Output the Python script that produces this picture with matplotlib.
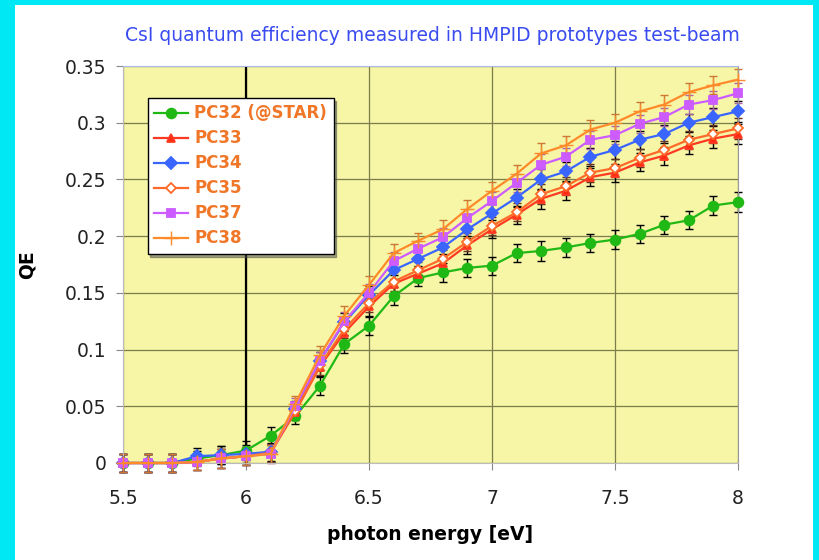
import numpy as np
import matplotlib
matplotlib.use('Agg')
import matplotlib.pyplot as plt

plt.rcParams['font.family'] = ['DejaVu Sans']

# photon energy grid (eV)
energy = [5.5, 5.6, 5.7, 5.8, 5.9, 6.0, 6.1, 6.2, 6.3, 6.4, 6.5, 6.6, 6.7,
          6.8, 6.9, 7.0, 7.1, 7.2, 7.3, 7.4, 7.5, 7.6, 7.7, 7.8, 7.9, 8.0]

pc32 = [0.0, 0.0, 0.0, 0.004, 0.007, 0.011, 0.024, 0.041, 0.068, 0.105, 0.121, 0.147, 0.163,
        0.168, 0.172, 0.174, 0.185, 0.187, 0.190, 0.194, 0.197, 0.202, 0.210, 0.214, 0.227, 0.230]
pc33 = [0.0, 0.0, 0.0, 0.001, 0.004, 0.006, 0.009, 0.045, 0.085, 0.115, 0.138, 0.158, 0.167,
        0.176, 0.192, 0.206, 0.219, 0.233, 0.240, 0.252, 0.256, 0.265, 0.271, 0.280, 0.286, 0.290]
pc34 = [0.0, 0.0, 0.0, 0.006, 0.007, 0.008, 0.010, 0.048, 0.090, 0.124, 0.148, 0.170, 0.180,
        0.190, 0.206, 0.220, 0.234, 0.250, 0.257, 0.270, 0.276, 0.285, 0.290, 0.300, 0.305, 0.310]
pc35 = [0.0, 0.0, 0.0, 0.001, 0.004, 0.006, 0.009, 0.046, 0.086, 0.118, 0.141, 0.160, 0.170,
        0.180, 0.195, 0.209, 0.221, 0.237, 0.244, 0.256, 0.260, 0.269, 0.276, 0.285, 0.290, 0.295]
pc37 = [0.0, 0.0, 0.0, 0.001, 0.004, 0.006, 0.008, 0.050, 0.090, 0.125, 0.150, 0.178, 0.189,
        0.199, 0.216, 0.231, 0.247, 0.263, 0.270, 0.285, 0.289, 0.299, 0.305, 0.316, 0.320, 0.326]
pc38 = [0.0, 0.0, 0.0, 0.001, 0.004, 0.006, 0.008, 0.052, 0.095, 0.130, 0.157, 0.185, 0.196,
        0.206, 0.224, 0.240, 0.255, 0.273, 0.280, 0.294, 0.300, 0.310, 0.316, 0.327, 0.333, 0.338]

# measurement uncertainty per energy point
qe_err = [0.008, 0.008, 0.008, 0.007, 0.008, 0.008, 0.008, 0.007, 0.008, 0.008, 0.008, 0.008, 0.007,
          0.008, 0.008, 0.008, 0.008, 0.009, 0.008, 0.008, 0.008, 0.008, 0.008, 0.008, 0.008, 0.009]

labels = ['PC32 (@STAR)', 'PC33', 'PC34', 'PC35', 'PC37', 'PC38']

series = [pc32, pc33, pc34, pc35, pc37, pc38]
colors = ['#1fb814', '#ff3a22', '#3a66ff', '#ff6a2a', '#cc5cff', '#ff8a2a']
markers = ['o', '^', 'D', 'D', 's', '+']
msizes = [7, 6, 6, 5, 6, 10]
faces = ['#1fb814', '#ff2a10', '#3a66ff', 'white', '#cc5cff', '#ff8a2a']
ecols = ['black', 'black', 'black', '#663322', '#aa66aa', '#cc7733']

fig = plt.figure(figsize=(8.2, 5.6), dpi=100)
fig.patch.set_facecolor('#00e8f4')
# white inner panel
fig.add_artist(plt.Rectangle((15 / 820, 0), 798 / 820, 1 - 5 / 560,
                             transform=fig.transFigure, facecolor='white', edgecolor='none', zorder=0))

ax = fig.add_axes([123 / 820, 1 - 463 / 560, 615 / 820, 397 / 560])
ax.set_facecolor('#f6f6a6')

for y, lab, c, m, ms, fc, ec in zip(series, labels, colors, markers, msizes, faces, ecols):
    ax.errorbar(energy, y, yerr=qe_err, fmt='none', ecolor=ec, elinewidth=1.0,
                capsize=3, capthick=1.0, clip_on=False, zorder=2)
    ax.plot(energy, y, color=c, marker=m, markersize=ms,
            markerfacecolor=fc, markeredgecolor=c, markeredgewidth=1.3 if m != '+' else 1.0,
            lw=1.6, label=lab, clip_on=False, zorder=3)

ax.set_xlim(5.5, 8)
ax.set_ylim(0, 0.35)
ax.set_xticks([5.5, 6, 6.5, 7, 7.5, 8])
ax.set_xticklabels(['5.5', '6', '6.5', '7', '7.5', '8'])
ax.set_yticks([0, 0.05, 0.1, 0.15, 0.2, 0.25, 0.3, 0.35])
ax.set_yticklabels(['0', '0.05', '0.1', '0.15', '0.2', '0.25', '0.3', '0.35'])
ax.grid(True, color='#7c7c4c', lw=0.9)
ax.set_axisbelow(True)
ax.axvline(6, color='black', lw=1.6, zorder=1)

ax.tick_params(direction='out', length=5, color='#888888', labelsize=13.5,
               labelcolor='#222222')
ax.tick_params(axis='x', pad=14)
ax.tick_params(axis='y', pad=7)
for s in ['left', 'bottom']:
    ax.spines[s].set_color('#bbbbbb')
ax.spines['top'].set_color('#aab8ee')
ax.spines['right'].set_color('#999999')

ax.set_xlabel('photon energy [eV]', fontsize=13.5, fontweight='bold', labelpad=12)
ax.set_ylabel('QE', fontsize=13.5, fontweight='bold', labelpad=20)

fig.text(0.527, 0.937, 'CsI quantum efficiency measured in HMPID prototypes test-beam',
         ha='center', va='center', color='#3a4cf0', fontsize=13.5)

leg = ax.legend(loc='upper left', bbox_to_anchor=(0.04, 0.92), frameon=True,
                fancybox=False, shadow=True, fontsize=12, handlelength=2.0,
                borderpad=0.4, labelspacing=0.42, handletextpad=0.4, borderaxespad=0)
leg.get_frame().set_edgecolor('black')
leg.get_frame().set_linewidth(1.0)
for t in leg.get_texts():
    t.set_color('#f07628')
    t.set_fontweight('bold')

fig.savefig('out.png', dpi=100, facecolor=fig.get_facecolor())
